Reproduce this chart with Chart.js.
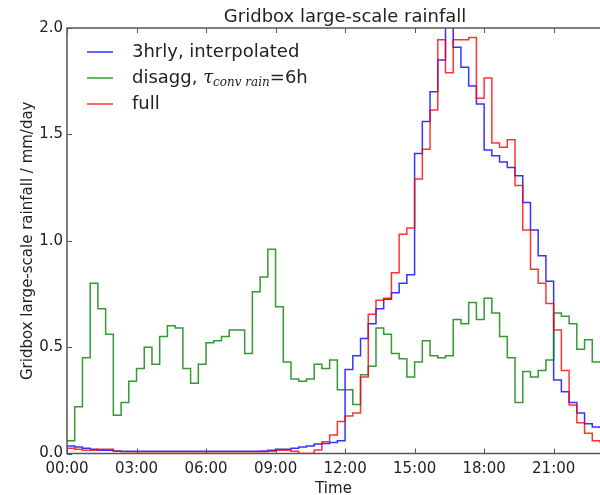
<!DOCTYPE html>
<html>
<head>
<meta charset="utf-8">
<title>Gridbox large-scale rainfall</title>
<script src="https://cdn.jsdelivr.net/npm/chart.js@4.4.0/dist/chart.umd.min.js"></script>
<style>
  html, body { margin:0; padding:0; background:#fff; }
  canvas { display:block; }
</style>
</head>
<body>
<canvas id="rain-chart" width="600" height="495"></canvas>
<script>
// 20 minute steps, time in hours
const stepHours = 1 / 3;
const xTicks = [0, 3, 6, 9, 12, 15, 18, 21];
const yTicks = [0, 0.5, 1.0, 1.5, 2.0];

// 3hrly, interpolated
const interp3hrly = [
  0.035, 0.030, 0.025, 0.020, 0.015, 0.015, 0.012, 0.010, 0.010, 0.010,
  0.010, 0.010, 0.010, 0.010, 0.010, 0.010, 0.010, 0.010, 0.010, 0.010,
  0.010, 0.010, 0.010, 0.010, 0.010, 0.012, 0.015, 0.020, 0.020, 0.025,
  0.030, 0.035, 0.045, 0.047, 0.052, 0.060, 0.395, 0.460, 0.540, 0.610,
  0.680, 0.725, 0.756, 0.800, 0.840, 1.410, 1.560, 1.700, 1.850, 2.030,
  1.910, 1.815, 1.727, 1.643, 1.426, 1.400, 1.370, 1.344, 1.306, 1.180,
  1.050, 0.930, 0.810, 0.345, 0.290, 0.240, 0.190, 0.140, 0.125, 0.120
];

// disagg, tau conv rain = 6h
const disagg = [
  0.06, 0.22, 0.45, 0.80, 0.68, 0.56, 0.18, 0.24, 0.34, 0.40,
  0.50, 0.42, 0.55, 0.60, 0.59, 0.40, 0.33, 0.42, 0.52, 0.53,
  0.55, 0.58, 0.58, 0.47, 0.76, 0.83, 0.96, 0.69, 0.43, 0.35,
  0.34, 0.35, 0.42, 0.40, 0.44, 0.30, 0.30, 0.23, 0.37, 0.41,
  0.59, 0.56, 0.47, 0.445, 0.36, 0.43, 0.53, 0.46, 0.45, 0.46,
  0.63, 0.61, 0.71, 0.63, 0.73, 0.66, 0.55, 0.45, 0.24, 0.385,
  0.36, 0.39, 0.44, 0.66, 0.645, 0.61, 0.49, 0.535, 0.43, 0.43
];

// full
const full = [
  0.025, 0.020, 0.015, 0.015, 0.020, 0.020, 0.010, 0.008, 0.008, 0.008,
  0.008, 0.008, 0.008, 0.008, 0.008, 0.008, 0.008, 0.008, 0.008, 0.008,
  0.008, 0.008, 0.008, 0.008, 0.008, 0.008, 0.010, 0.015, 0.015, 0.010,
  0.000, 0.000, 0.016, 0.055, 0.087, 0.150, 0.176, 0.190, 0.360, 0.655,
  0.720, 0.730, 0.850, 1.030, 1.060, 1.290, 1.430, 1.615, 1.945, 1.790,
  1.945, 1.945, 1.955, 1.670, 1.765, 1.460, 1.440, 1.475, 1.260, 1.050,
  0.866, 0.800, 0.705, 0.580, 0.390, 0.228, 0.145, 0.095, 0.060, 0.050
];

const blueLine = 'rgba(0,0,255,0.8)';
const greenLine = 'rgba(0,128,0,0.8)';
const redLine = 'rgba(255,0,0,0.8)';

function toPoints(vals){
  return vals.map((v, i) => ({x: i * stepHours, y: v}));
}

function hourLabel(v){
  return String(v).padStart(2, '0') + ':00';
}

// title, legend, spines and inward ticks drawn like matplotlib
const frame = {
  id: 'frame',
  afterDatasetsDraw(chart){
    const {ctx, chartArea:{left, right, top, bottom}, scales:{x, y}} = chart;
    ctx.save();

    ctx.strokeStyle = '#555';
    ctx.lineWidth = 1.5;
    ctx.beginPath();
    ctx.moveTo(right + 2, top);
    ctx.lineTo(left, top);
    ctx.lineTo(left, bottom);
    ctx.lineTo(right + 2, bottom);
    ctx.stroke();

    ctx.lineWidth = 1;
    ctx.beginPath();
    xTicks.forEach(t => {
      const px = Math.round(x.getPixelForValue(t)) + 0.5;
      ctx.moveTo(px, bottom); ctx.lineTo(px, bottom - 5);
      ctx.moveTo(px, top); ctx.lineTo(px, top + 5);
    });
    yTicks.forEach(v => {
      const py = Math.round(y.getPixelForValue(v)) + 0.5;
      ctx.moveTo(left, py); ctx.lineTo(left + 5, py);
    });
    ctx.stroke();
    ctx.restore();
  },
  afterDraw(chart){
    const {ctx, chartArea:{top}, scales:{x}} = chart;
    ctx.save();

    // title centred on the full axes (which run to 24:00)
    ctx.fillStyle = '#222';
    ctx.font = "18px 'DejaVu Sans'";
    ctx.textAlign = 'center';
    ctx.textBaseline = 'middle';
    ctx.fillText('Gridbox large-scale rainfall', x.getPixelForValue(12), top - 11);

    // legend
    const rows = [
      {color: blueLine, y: 52, parts: [{t: '3hrly, interpolated'}]},
      {color: greenLine, y: 78, parts: [
        {t: 'disagg, '},
        {t: '\u03c4', font: "italic 18px 'DejaVu Serif'"},
        {t: 'conv rain', font: "italic 12px 'DejaVu Serif'", dy: 5},
        {t: '=6h'}
      ]},
      {color: redLine, y: 104, parts: [{t: 'full'}]}
    ];
    ctx.textAlign = 'left';
    rows.forEach(r => {
      ctx.strokeStyle = r.color;
      ctx.lineWidth = 1.5;
      ctx.beginPath();
      ctx.moveTo(87, r.y);
      ctx.lineTo(113, r.y);
      ctx.stroke();

      let tx = 132;
      r.parts.forEach(p => {
        ctx.font = p.font || "18px 'DejaVu Sans'";
        ctx.fillText(p.t, tx, r.y + (p.dy || 0));
        tx += ctx.measureText(p.t).width;
      });
    });
    ctx.restore();
  }
};

const data = {
  datasets: [
    {label: 'full', data: toPoints(full), borderColor: redLine, order: 0},
    {label: 'disagg', data: toPoints(disagg), borderColor: greenLine, order: 1},
    {label: '3hrly, interpolated', data: toPoints(interp3hrly), borderColor: blueLine, order: 2}
  ].map(d => Object.assign(d, {
    stepped: 'before',
    borderWidth: 1.5,
    pointRadius: 0,
    fill: false
  }))
};

Chart.defaults.font.family = "'DejaVu Sans', sans-serif";
Chart.defaults.color = '#222';

const config = {
  type: 'line',
  data,
  options: {
    responsive: false,
    devicePixelRatio: 1,
    animation: false,
    layout: {padding: {top: 28, right: 0, bottom: 0, left: 0}},
    plugins: {
      legend: {display: false},
      tooltip: {enabled: false}
    },
    scales: {
      x: {
        type: 'linear',
        min: 0,
        max: 23,
        grid: {display: false, drawTicks: false},
        border: {display: false},
        afterBuildTicks: s => { s.ticks = xTicks.map(v => ({value: v})); },
        afterFit: s => { s.height = 41.5; },
        ticks: {
          font: {size: 15},
          padding: 7,
          maxRotation: 0,
          callback: v => hourLabel(v)
        },
        title: {display: true, text: 'Time', font: {size: 15}, padding: {top: 0, bottom: -3}}
      },
      y: {
        min: 0,
        max: 2,
        grid: {display: false, drawTicks: false},
        border: {display: false},
        afterBuildTicks: s => { s.ticks = yTicks.map(v => ({value: v})); },
        afterFit: s => { s.width = 67; },
        ticks: {
          font: {size: 15},
          padding: 4,
          callback: v => v.toFixed(1)
        },
        title: {
          display: true,
          text: 'Gridbox large-scale rainfall / mm/day',
          font: {size: 15},
          padding: {top: 19, bottom: 0}
        }
      }
    }
  },
  plugins: [frame]
};

const myChart = new Chart(document.getElementById('rain-chart'), config);
</script>
</body>
</html>
